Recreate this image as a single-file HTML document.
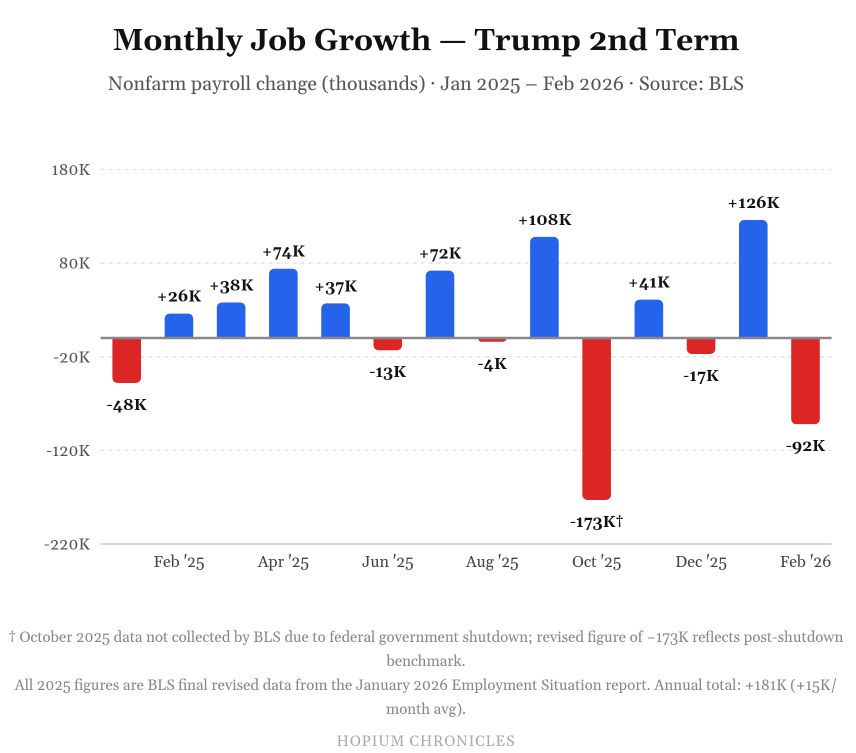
<!DOCTYPE html>
<html lang="en">
<head>
<meta charset="utf-8">
<title>Monthly Job Growth — Trump 2nd Term</title>
<style>
html,body{margin:0;padding:0;background:#fff;width:856px;height:753px;overflow:hidden}
body{font-family:Georgia,Gelasio,"Liberation Serif",serif;position:relative}
.t{position:absolute;left:0;width:852px;text-align:center;white-space:nowrap}
#chart-title{top:21px;font-size:30px;font-weight:700;color:#111;line-height:42px}
#chart-subtitle{top:72px;font-size:19.5px;color:#555;line-height:26px}
#chart{position:absolute;left:0;top:0}
#chart text{font-family:Georgia,Gelasio,"Liberation Serif",serif}
.foot{font-size:15px;color:#888;line-height:24px}
#brand{top:733px;font-size:15px;color:#aaa;letter-spacing:.8px;line-height:20px}
</style>
</head>
<body>
<div class="t" id="chart-title">Monthly Job Growth — Trump 2nd Term</div>
<div class="t" id="chart-subtitle">Nonfarm payroll change (thousands) · Jan 2025 – Feb 2026 · Source: BLS</div>
<svg id="chart" width="856" height="753"></svg>
<div class="t foot" style="top:627px">† October 2025 data not collected by BLS due to federal government shutdown; revised figure of −173K reflects post-shutdown</div>
<div class="t foot" style="top:651px">benchmark.</div>
<div class="t foot" style="top:675px">All 2025 figures are BLS final revised data from the January 2026 Employment Situation report. Annual total: +181K (+15K/</div>
<div class="t foot" style="top:699px">month avg).</div>
<div class="t" id="brand">HOPIUM CHRONICLES</div>
<script>
const months = ["Jan '25","Feb '25","Mar '25","Apr '25","May '25","Jun '25","Jul '25","Aug '25","Sep '25","Oct '25","Nov '25","Dec '25","Jan '26","Feb '26"];
const jobChange = [-48,26,38,74,37,-13,72,-4,108,-173,41,-17,126,-92];
const valueLabels = ["-48K","+26K","+38K","+74K","+37K","-13K","+72K","-4K","+108K","-173K†","+41K","-17K","+126K","-92K"];
const yTicks = [180,80,-20,-120,-220];
const yTickLabels = ["180K","80K","-20K","-120K","-220K"];

const NS = 'http://www.w3.org/2000/svg';
const svg = document.getElementById('chart');
const plot = {left:100.6, right:831.6, top:169.5, bottom:544};
const yMax = 180, yMin = -220;
const barW = 28.6, radius = 5;
function y(v){ return plot.top + (yMax - v) / (yMax - yMin) * (plot.bottom - plot.top); }
function x(i){ return plot.left + (i + 0.5) * (plot.right - plot.left) / months.length; }
function make(tag, attrs, txt){
  const el = document.createElementNS(NS, tag);
  for (const k in attrs) el.setAttribute(k, attrs[k]);
  if (txt !== undefined) el.textContent = txt;
  svg.appendChild(el);
  return el;
}
function barPath(cx, v){
  const l = cx - barW/2, r = cx + barW/2, z = y(0), e = y(v);
  const h = Math.abs(e - z), rr = Math.min(radius, h);
  if (v >= 0) {
    return `M${l} ${z}V${e+rr}A${rr} ${rr} 0 0 1 ${l+rr} ${e}H${r-rr}A${rr} ${rr} 0 0 1 ${r} ${e+rr}V${z}Z`;
  }
  return `M${l} ${z}V${e-rr}A${rr} ${rr} 0 0 0 ${l+rr} ${e}H${r-rr}A${rr} ${rr} 0 0 0 ${r} ${e-rr}V${z}Z`;
}

yTicks.forEach((t, i) => {
  if (t !== yMin) {
    const g = make('line', {x1:plot.left, x2:plot.right, y1:y(t), y2:y(t), stroke:'#e3e3e3', 'stroke-width':1.5, 'stroke-dasharray':'4 4'});
    
    
  }
  const lab = make('text', {x:90, y:y(t)+5.5, 'text-anchor':'end', 'font-size':16.5, fill:'#555'}, yTickLabels[i]);
  
  
});

const baseLine = make('line', {x1:plot.left, x2:plot.right, y1:y(yMin), y2:y(yMin), stroke:'#ccc', 'stroke-width':1.5});



months.forEach((m, i) => {
  const v = jobChange[i];
  const bar = make('path', {d:barPath(x(i), v), fill: v >= 0 ? '#2563eb' : '#dc2626'});
  
  
  const ly = v >= 0 ? y(v) - 12 : y(v) + 27;
  const lab = make('text', {x:x(i), y:ly, 'text-anchor':'middle', 'font-size':16, 'font-weight':700, fill:'#111'}, valueLabels[i]);
  
  
  if (i % 2 === 1) {
    const tick = make('text', {x:x(i), y:567, 'text-anchor':'middle', 'font-size':16, fill:'#444'}, m);
    
    
  }
});

const zero = make('line', {x1:plot.left, x2:plot.right, y1:y(0), y2:y(0), stroke:'#888', 'stroke-width':2.5});


</script>
</body>
</html>
